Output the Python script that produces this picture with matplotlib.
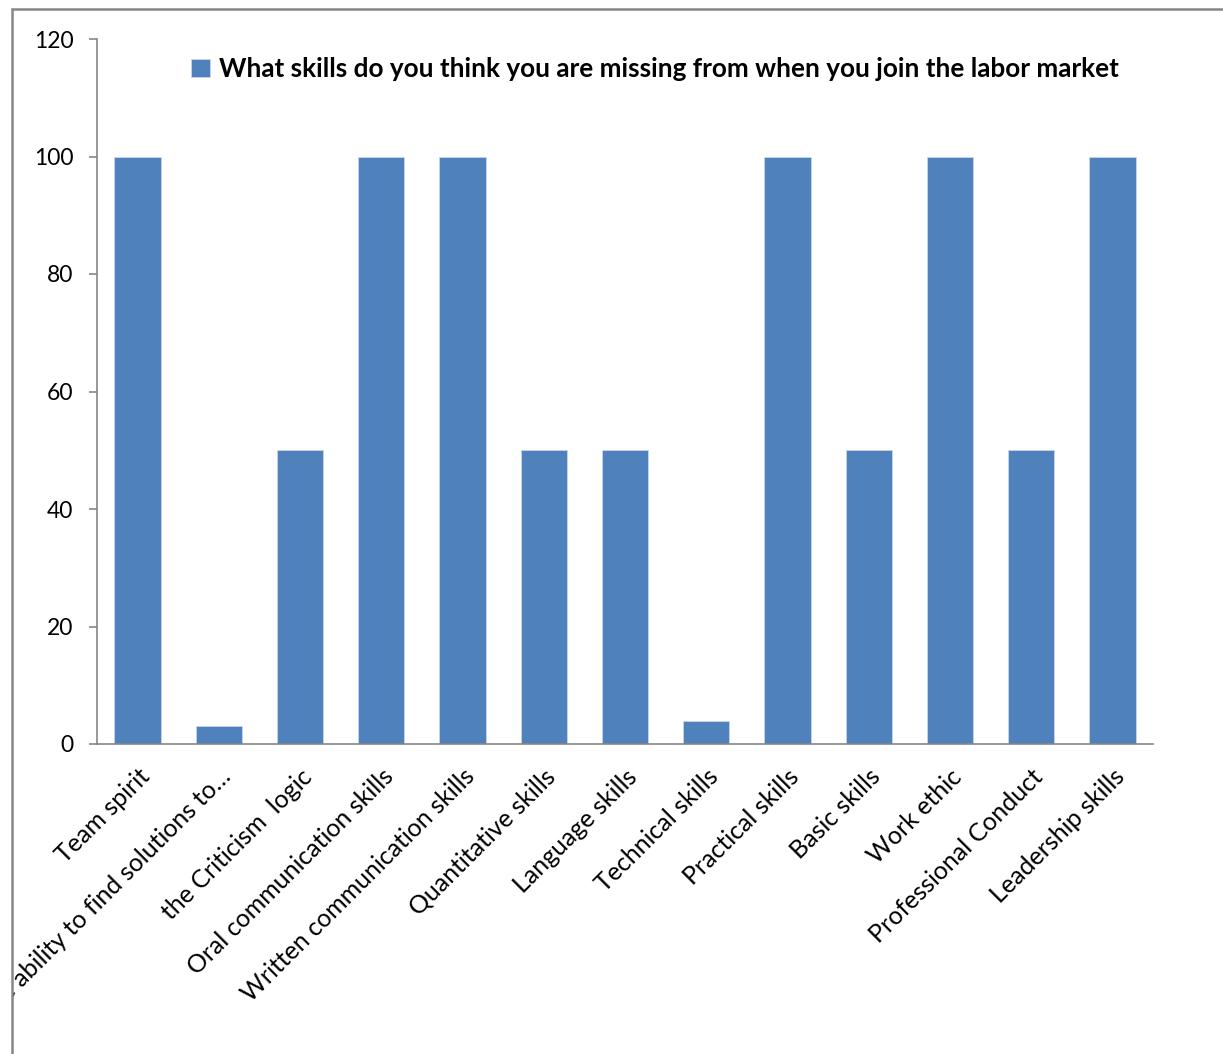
import matplotlib.pyplot as plt
from matplotlib.patches import Rectangle

plt.rcParams['font.family'] = ['Lato', 'DejaVu Sans']

skills = ['Team spirit', 'The ability to find solutions to…', 'the Criticism  logic',
          'Oral communication skills', 'Written communication skills',
          'Quantitative skills', 'Language skills', 'Technical skills',
          'Practical skills', 'Basic skills', 'Work ethic',
          'Professional Conduct', 'Leadership skills']
values = [100, 3, 50, 100, 100, 50, 50, 4, 100, 50, 100, 50, 100]
series_name = 'What skills do you think you are missing from when you join the labor market'
yticks = [0, 20, 40, 60, 80, 100, 120]

W, H = 1223, 1054
fig = plt.figure(figsize=(W / 100, H / 100), dpi=100)
ax = fig.add_axes([97 / W, 1 - 744 / H, (1153 - 97) / W, (744 - 39) / H])

grey = '#868686'
x = range(len(skills))
ax.bar(x, values, width=0.57, color='#4F81BD', edgecolor='#C6D6EA', linewidth=0.6,
       label=series_name)

ax.set_xlim(-0.5, len(skills) - 0.5)
ax.set_ylim(0, 120)
ax.set_yticks(yticks)
ax.tick_params(axis='y', length=6, width=1.2, color=grey, pad=11, labelsize=16.5)
ax.tick_params(axis='x', length=0, pad=15, labelsize=18)
ax.set_xticks(list(x))
ax.set_xticklabels(skills, rotation=45, ha='right', va='top', rotation_mode='anchor')

for s in ['top', 'right']:
    ax.spines[s].set_visible(False)
for s in ['left', 'bottom']:
    ax.spines[s].set_color(grey)
    ax.spines[s].set_linewidth(1.2)

# chart frame, running off the right and bottom edges
frame = Rectangle((12 / W, -0.02), 1.1, 1 - 9 / H + 0.02, transform=fig.transFigure,
                  fill=False, edgecolor=grey, linewidth=1.8)
fig.patches.append(frame)

# long labels get cut at the frame
clip = Rectangle((13 / W, 0), 1, 1, transform=fig.transFigure, visible=False)
fig.patches.append(clip)
for lbl in ax.get_xticklabels():
    lbl.set_clip_path(clip)

leg = ax.legend(loc='center left', bbox_to_anchor=(168 / W, 1 - 69 / H),
                bbox_transform=fig.transFigure, frameon=False,
                prop={'weight': 'bold', 'size': 18.8},
                handlelength=0.7, handleheight=0.7, handletextpad=0.35)

fig.savefig('out.png', dpi=100)
